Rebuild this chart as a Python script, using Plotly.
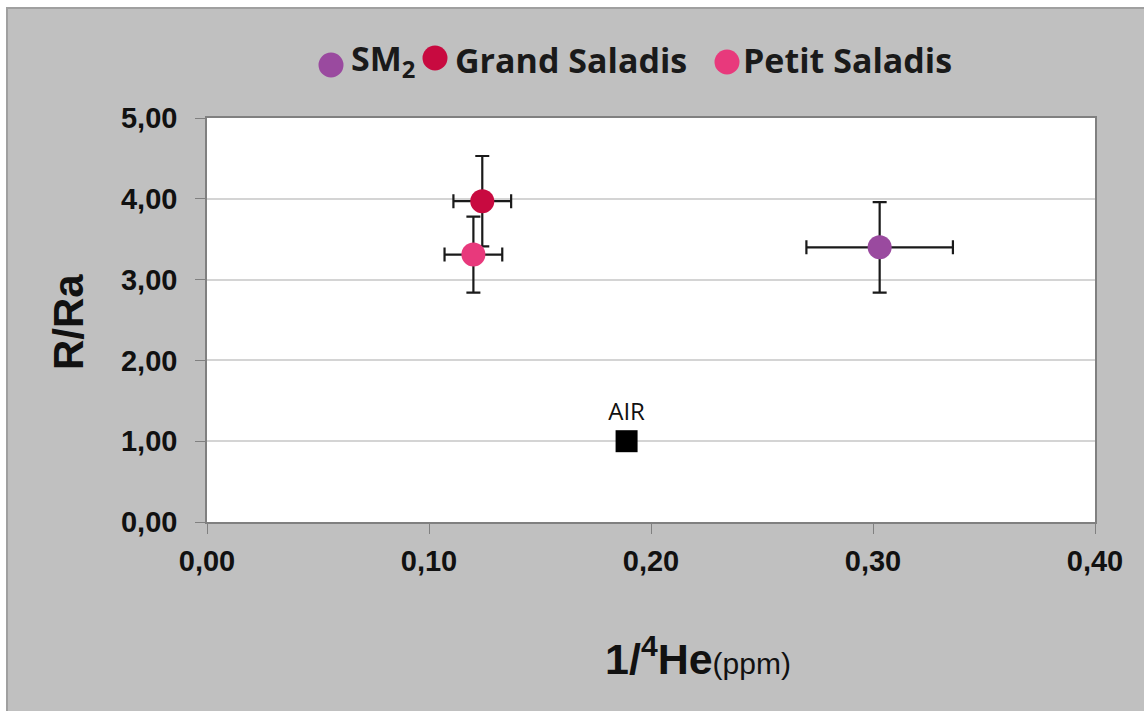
import plotly.graph_objects as go

# Samples: 1/4He (ppm) vs R/Ra with uncertainties
names = ["SM<sub>2</sub>", "Grand Saladis", "Petit Saladis"]
colors = ["#9a4a9f", "#c80a40", "#e8397c"]
inv_he = [0.303, 0.124, 0.120]
inv_he_err = [0.033, 0.013, 0.013]
r_ra = [3.40, 3.97, 3.31]
r_ra_err = [0.56, 0.56, 0.47]

air_x = [0.189]
air_y = [1.00]
air_label = ["AIR"]

y_ticks = [0, 1, 2, 3, 4, 5]
x_ticks = [0.0, 0.1, 0.2, 0.3, 0.4]

# plot-area geometry in pixels, used to place paper-space decorations
W, H = 1144, 711
L, R, T, B = 207, 49, 118, 189
PW, PH = W - L - R, H - T - B


def px(x):
    return (x - L) / PW


def py(y):
    return (H - B - y) / PH


fig = go.Figure()

for n, c, x, xe, y, ye in zip(names, colors, inv_he, inv_he_err, r_ra, r_ra_err):
    fig.add_trace(go.Scatter(
        x=[x], y=[y], name=n, mode="markers", showlegend=False,
        marker=dict(color=c, size=24, symbol="circle"),
        error_x=dict(type="constant", value=xe, color="#1a1a1a", thickness=2.2, width=7),
        error_y=dict(type="constant", value=ye, color="#1a1a1a", thickness=2.2, width=7),
    ))

fig.add_trace(go.Scatter(
    x=air_x, y=air_y, mode="markers+text", showlegend=False,
    marker=dict(color="black", size=22, symbol="square"),
    text=air_label, textposition="top center",
    textfont=dict(family="Open Sans", size=24, color="#111"),
))

axis_font = dict(family="Liberation Sans", size=29, color="#111", weight="bold")

# legend drawn as coloured dots with bold labels across the top
legend_items = [
    (331, 65, 349),   # dot centre x, dot centre y, label left x
    (435, 58, 453),
    (727, 62, 741),
]
shapes = []
annotations = []
for (cx, cy, lx), n, c in zip(legend_items, names, colors):
    r = 12.5
    shapes.append(dict(
        type="circle", xref="paper", yref="paper",
        x0=px(cx - r), x1=px(cx + r), y0=py(cy + r), y1=py(cy - r),
        fillcolor=c, line=dict(width=0), layer="above",
    ))
    annotations.append(dict(
        text=f"<b>{n}</b>", xref="paper", yref="paper",
        x=px(lx), y=py(60), xanchor="left", yanchor="middle", showarrow=False,
        font=dict(family="Open Sans", size=34, color="#1a1a1a"),
    ))

annotations.append(dict(
    text="<b>1/<sup>4</sup>He</b><span style='font-size:30px;font-weight:normal'>(ppm)</span>",
    xref="paper", yref="paper", x=px(698), y=py(656),
    xanchor="center", yanchor="middle", showarrow=False,
    font=dict(family="Liberation Sans", size=43, color="#111"),
))
annotations.append(dict(
    text="<b>R/Ra</b>", xref="paper", yref="paper", x=px(68), y=py(322),
    xanchor="center", yanchor="middle", showarrow=False, textangle=-90,
    font=dict(family="Liberation Sans", size=42, color="#111"),
))

# thin white strip and border framing the chart
shapes += [
    dict(type="rect", xref="paper", yref="paper", x0=px(-50), x1=px(W + 50), y0=py(7), y1=py(-50),
         fillcolor="white", line=dict(width=0), layer="above"),
    dict(type="rect", xref="paper", yref="paper", x0=px(-50), x1=px(6), y0=py(W), y1=py(-50),
         fillcolor="white", line=dict(width=0), layer="above"),
    dict(type="line", xref="paper", yref="paper", x0=px(6), x1=px(W + 50), y0=py(8), y1=py(8),
         line=dict(color="#a0a0a0", width=2)),
    dict(type="line", xref="paper", yref="paper", x0=px(7), x1=px(7), y0=py(W), y1=py(8),
         line=dict(color="#a0a0a0", width=2)),
]

fig.update_layout(
    width=W, height=H,
    margin=dict(l=L, r=R, t=T, b=B),
    paper_bgcolor="#c0c0c0",
    plot_bgcolor="white",
    separators=", ",
    showlegend=False,
    xaxis=dict(
        range=[0, 0.4], tickvals=x_ticks, tickformat=".2f",
        showgrid=False, zeroline=False,
        showline=True, linecolor="#808080", linewidth=1.5, mirror=True,
        ticks="outside", ticklen=10, tickcolor="#808080",
        tickfont=axis_font, ticklabelstandoff=2,
    ),
    yaxis=dict(
        range=[0, 5], tickvals=y_ticks, tickformat=".2f",
        showgrid=True, gridcolor="#d4d4d4", gridwidth=1.5, zeroline=False,
        showline=True, linecolor="#808080", linewidth=1.5, mirror=True,
        ticks="outside", ticklen=10, tickcolor="#808080",
        tickfont=axis_font, ticklabelstandoff=12,
    ),
    shapes=shapes,
    annotations=annotations,
)

fig.write_html("out.html")
